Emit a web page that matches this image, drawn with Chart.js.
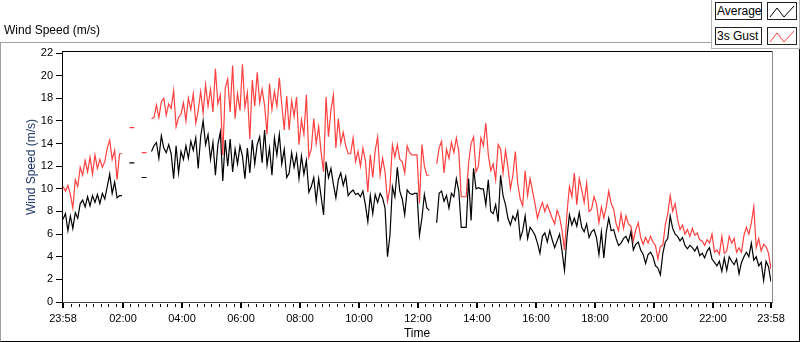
<!DOCTYPE html>
<html>
<head>
<meta charset="utf-8">
<title>Wind Speed</title>
<script src="https://cdn.jsdelivr.net/npm/chart.js@4.4.1/dist/chart.umd.min.js"></script>
<style>
  html, body { margin: 0; padding: 0; background: #fff; }
  body { width: 800px; height: 342px; position: relative; overflow: hidden; font-family: "Liberation Sans", Arial, sans-serif; }
  .frame { position: absolute; left: 0; top: 42px; width: 800px; height: 300px; box-sizing: border-box;
           border-left: 1px solid #a0a0a0; border-top: 1px solid #a0a0a0; border-right: 1px solid #000; border-bottom: 1px solid #000; }
  canvas { position: absolute; left: 0; top: 0; }
  .title { position: absolute; left: 4px; top: 23px; font-size: 12px; line-height: 14px; color: #000; }
  .ytitle { position: absolute; left: 31px; top: 167px; font-size: 12px; line-height: 14px; color: #1c3364;
            transform: translate(-50%, -50%) rotate(-90deg); white-space: nowrap; }
  .legend { position: absolute; left: 711px; top: 0; width: 89px; height: 49px; box-sizing: border-box; background: #fff;
            border-left: 1px solid #b4b4b4; border-bottom: 1px solid #b4b4b4; border-right: 1px solid #b4b4b4; }
  .lbl { position: absolute; left: 3px; width: 47px; height: 18px; box-sizing: border-box; border: 1px solid #222;
         font-size: 12px; line-height: 16px; padding-left: 1px; color: #000; background: #fff; }
  .ico { position: absolute; left: 55px; width: 30px; height: 18px; box-sizing: border-box; border: 1px solid #222; background: #fff; }
  .ico svg { position: absolute; left: 0; top: 0; }
</style>
</head>
<body>
<div class="frame"></div>
<canvas id="chart" width="800" height="342"></canvas>
<div class="title">Wind Speed (m/s)</div>
<div class="ytitle">Wind Speed (m/s)</div>
<div class="legend">
  <div class="lbl" style="top:2px">Average</div>
  <div class="ico" style="top:2px"><svg width="28" height="16"><polyline points="2,14 9,5 16,14 26,3" fill="none" stroke="#000" stroke-width="1"/></svg></div>
  <div class="lbl" style="top:27px">3s Gust</div>
  <div class="ico" style="top:27px"><svg width="28" height="16"><polyline points="2,14 9,5 16,14 26,3" fill="none" stroke="#ff4040" stroke-width="1"/></svg></div>
</div>
<script>
// one sample every 5 minutes, starting at 23:58
const sampleStep = 5;

const avgSpeed = [
  7.3, 7.8, 6.3, 7.6, 6.5, 7.9, 7.4, 8.7, 9.0, 8.4, 9.3, 8.5,
  9.4, 8.8, 9.5, 8.7, 9.6, 9.1, 10.2, 11.3, 9.6, 10.6, 9.2, 9.4,
  9.4, null, null, 12.3, 12.3, 12.3, null, null, 11.0, 11.0, 11.0, null,
  13.3, 13.8, 14.1, 12.7, 14.7, 13.6, 13.2, 13.9, 13.1, 10.9, 13.8, 11.4,
  13.3, 12.6, 13.8, 12.7, 14.2, 13.4, 14.5, 11.8, 14.6, 16.0, 13.9, 14.8,
  12.6, 14.1, 11.2, 13.9, 15.0, 10.7, 14.3, 12.0, 14.4, 11.5, 13.5, 12.2,
  13.8, 12.9, 10.9, 13.6, 11.4, 14.3, 12.2, 13.9, 14.6, 12.3, 15.2, 12.1,
  13.6, 11.2, 14.5, 13.0, 14.8, 12.2, 13.5, 11.0, 11.4, 13.2, 11.9, 13.0,
  10.9, 12.9, 11.3, 12.5, 9.7, 10.2, 11.0, 8.9, 10.9, 9.3, 7.7, 12.4,
  11.0, 11.8, 10.4, 9.2, 10.8, 11.4, 10.3, 11.1, 9.4, 9.7, 9.9, 9.5,
  9.6, 9.3, 9.8, 8.6, 7.1, 9.4, 7.8, 9.5, 8.8, 9.6, 9.2, 8.3,
  4.0, 5.9, 10.2, 9.3, 11.9, 9.8, 9.1, 7.7, 9.9, 9.6, 9.5, 9.6,
  9.6, 5.9, 7.4, 9.5, 8.3, 8.1, null, null, 7.0, 9.6, 9.8, 8.9,
  9.4, 8.3, 9.6, 9.3, 10.9, 9.8, 6.6, 6.6, 6.6, 10.9, 7.2, 11.8,
  10.0, 10.1, 10.0, 10.0, 8.6, 10.8, 8.0, 7.8, 8.6, 7.1, 11.2, 9.4,
  8.6, 7.4, 6.8, 7.6, 7.2, 8.0, 5.6, 6.3, 7.6, 5.6, 6.6, 6.3,
  5.9, 5.2, 4.3, 5.8, 6.1, 5.3, 6.3, 5.5, 4.8, 5.4, 6.0, 4.5,
  2.8, 5.7, 7.7, 6.8, 7.4, 6.7, 7.9, 6.6, 6.2, 6.9, 5.7, 6.2,
  6.4, 5.7, 4.2, 6.2, 3.9, 6.2, 7.4, 6.3, 6.4, 5.6, 5.0, 5.2,
  5.6, 5.8, 5.3, 6.2, 4.6, 5.1, 5.3, 4.6, 4.2, 3.4, 4.2, 4.4,
  4.0, 3.2, 3.0, 2.4, 4.3, 5.3, 5.6, 7.6, 6.5, 6.0, 5.8, 5.4,
  5.7, 5.0, 4.7, 5.0, 4.8, 4.5, 4.9, 4.1, 4.3, 3.9, 4.5, 4.8,
  3.8, 3.5, 3.2, 3.6, 2.7, 3.9, 2.8, 4.0, 3.6, 3.3, 3.8, 2.5,
  3.5, 4.0, 4.4, 4.0, 5.2, 3.7, 4.0, 3.2, 3.5, 1.9, 3.6, 3.1,
  1.8
];

const gustSpeed = [
  10.2, 9.8, 10.3, 9.5, 8.3, 10.8, 10.2, 11.9, 11.2, 12.5, 11.5, 12.8,
  11.3, 13.0, 11.8, 12.6, 11.9, 12.4, 13.6, 14.3, 12.6, 13.4, 10.8, 13.1,
  13.1, null, null, 15.4, 15.4, 15.4, null, null, 13.2, 13.2, 13.2, null,
  16.2, 16.3, 17.4, 16.3, 17.7, 18.0, 16.5, 17.5, 17.1, 18.7, 15.5, 16.3,
  16.6, 17.6, 16.0, 18.0, 17.0, 18.4, 15.8, 16.9, 18.6, 16.7, 19.2, 17.3,
  18.8, 16.8, 20.6, 17.5, 18.3, 13.0, 18.9, 19.7, 16.8, 20.9, 16.2, 18.4,
  16.9, 21.0, 17.2, 18.5, 14.4, 19.6, 17.3, 20.3, 17.6, 18.8, 17.4, 14.8,
  19.3, 17.0, 18.6, 17.3, 19.8, 17.4, 15.2, 18.2, 15.2, 17.8, 16.4, 18.1,
  13.9, 16.1, 14.8, 18.3, 12.8, 13.5, 16.2, 14.0, 15.5, 13.2, 11.5, 18.1,
  14.6, 17.0, 18.3, 13.6, 16.2, 14.0, 15.0, 13.8, 13.1, 13.1, 14.5, 12.4,
  13.3, 12.0, 13.6, 12.5, 9.7, 13.0, 11.0, 13.4, 14.6, 11.2, 12.7, 11.5,
  8.9, 10.1, 13.9, 12.8, 13.9, 12.6, 12.4, 11.4, 13.8, 13.2, 13.0, 13.0,
  13.0, 8.7, 13.9, 12.0, 11.2, 11.2, null, null, 12.2, 13.6, 14.2, 11.4,
  13.5, 12.7, 14.1, 13.2, 14.5, 13.3, 9.3, 9.3, 9.3, 12.3, 14.0, 14.6,
  11.5, 12.0, 14.5, 13.8, 15.8, 13.0, 11.6, 12.2, 10.8, 13.9, 13.5, 11.4,
  13.4, 11.9, 10.0, 11.2, 13.3, 10.4, 9.1, 8.5, 11.6, 9.4, 10.9, 9.8,
  8.7, 7.4, 8.2, 8.8, 8.0, 8.6, 8.0, 7.4, 6.9, 8.1, 7.5, 6.3,
  4.6, 7.8, 10.2, 9.3, 11.4, 8.6, 10.9, 9.9, 8.8, 10.5, 8.0, 8.2,
  9.3, 8.7, 7.0, 8.4, 7.4, 8.4, 9.8, 8.7, 8.2, 6.9, 6.3, 7.8,
  6.5, 7.6, 6.9, 6.7, 5.4, 6.4, 7.0, 5.7, 5.1, 5.7, 5.2, 5.8,
  5.3, 5.0, 3.8, 4.9, 5.0, 6.8, 7.8, 9.4, 8.0, 8.7, 7.3, 6.4,
  6.8, 6.0, 6.4, 5.8, 6.5, 5.9, 6.1, 5.5, 5.4, 5.0, 5.5, 5.2,
  6.0, 4.4, 4.6, 4.2, 5.8, 4.3, 4.5, 5.8, 5.2, 5.6, 4.4, 4.8,
  4.4, 5.9, 6.6, 6.0, 7.0, 8.4, 4.8, 5.6, 4.5, 5.1, 4.9, 4.3,
  2.9
];

// x axis, in minutes after 23:58
const tickMinutes = [0, 122, 242, 362, 482, 602, 722, 842, 962, 1082, 1202, 1322, 1440];
const tickLabels = ['23:58', '02:00', '04:00', '06:00', '08:00', '10:00', '12:00',
                    '14:00', '16:00', '18:00', '20:00', '22:00', '23:58'];

const minutes = avgSpeed.map((_, i) => i * sampleStep);
const minorTicks = [];
for (let m = 17; m < 1440; m += 15) {
    if (!tickMinutes.includes(m)) minorTicks.push(m);
}

function toPoints(values) {
    return values.map((v, i) => ({ x: minutes[i], y: v }));
}

// LabVIEW style plot frame + minute ticks under the x axis
const plotFrame = {
    id: 'plotFrame',
    afterDraw(chart) {
        const ctx = chart.ctx;
        const a = chart.chartArea;
        const xs = chart.scales.x;
        ctx.save();
        ctx.fillStyle = '#000';
        ctx.fillRect(a.left - 1, a.top - 2, a.right - a.left + 2, 1);
        ctx.fillRect(a.left - 1, a.top - 2, 1, a.bottom - a.top + 3);
        ctx.fillStyle = '#8c8c8c';
        ctx.fillRect(a.right + 1, a.top - 2, 1, a.bottom - a.top + 3);
        ctx.fillStyle = '#444';
        ctx.fillRect(a.left - 1, a.bottom, a.right - a.left + 3, 1);
        ctx.fillStyle = '#000';
        minorTicks.forEach(function(m) {
            const px = Math.round(xs.getPixelForValue(m));
            ctx.fillRect(px, a.bottom + 2, 1, 3);
        });
        tickMinutes.forEach(function(m) {
            const px = Math.round(xs.getPixelForValue(m));
            ctx.fillRect(px - 1, a.bottom + 1, 2, 5);
        });
        ctx.restore();
    }
};

const ctx = document.getElementById('chart').getContext('2d');
const chart = new Chart(ctx, {
    type: 'line',
    data: {
        datasets: [{
            label: 'Average',
            data: toPoints(avgSpeed),
            borderColor: '#000',
            borderWidth: 1.2,
            pointRadius: 0,
            tension: 0,
            spanGaps: false,
            fill: false
        }, {
            label: '3s Gust',
            data: toPoints(gustSpeed),
            borderColor: '#ff4040',
            borderWidth: 1.2,
            pointRadius: 0,
            tension: 0,
            spanGaps: false,
            fill: false
        }]
    },
    options: {
        responsive: false,
        animation: false,
        devicePixelRatio: 1,
        layout: {
            padding: { top: 53, right: 29, left: 0, bottom: 0 }
        },
        scales: {
            x: {
                type: 'linear',
                min: 0,
                max: 1440,
                afterBuildTicks: (scale) => {
                    scale.ticks = tickMinutes.map((v) => ({ value: v }));
                },
                afterFit: (scale) => { scale.height = 40; },
                grid: { display: false },
                border: { display: false },
                ticks: {
                    autoSkip: false,
                    maxRotation: 0,
                    minRotation: 0,
                    padding: 2,
                    color: '#000',
                    font: { family: '"Liberation Sans", Arial, sans-serif', size: 11 },
                    callback: (value) => {
                        const i = tickMinutes.indexOf(value);
                        return i >= 0 ? tickLabels[i] : '';
                    }
                },
                title: {
                    display: true,
                    text: 'Time',
                    color: '#000',
                    padding: { top: 0, bottom: 1 },
                    font: { family: '"Liberation Sans", Arial, sans-serif', size: 12 }
                }
            },
            y: {
                min: 0,
                max: 22,
                afterFit: (scale) => { scale.width = 63; },
                grid: {
                    drawOnChartArea: false,
                    drawTicks: true,
                    tickLength: 7,
                    tickColor: '#000'
                },
                border: { display: false },
                ticks: {
                    stepSize: 2,
                    padding: 3,
                    color: '#000',
                    font: { family: '"Liberation Sans", Arial, sans-serif', size: 11 }
                }
            }
        },
        plugins: {
            legend: { display: false },
            tooltip: { enabled: false }
        }
    },
    plugins: [plotFrame]
});
</script>
</body>
</html>
